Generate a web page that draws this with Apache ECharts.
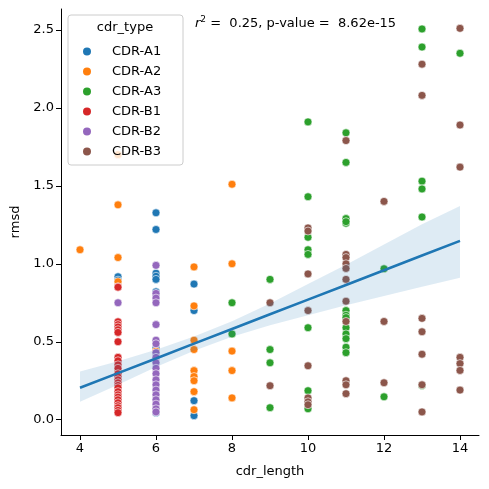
<!DOCTYPE html>
<html><head><meta charset="utf-8">
<script src="https://cdn.jsdelivr.net/npm/echarts@6/dist/echarts.min.js"></script>
<style>html,body{margin:0;padding:0;background:#fff}#c{width:489px;height:489px}</style>
</head><body><div id="c"></div>
<script>
const cdrTypes = ['CDR-A1','CDR-A2','CDR-A3','CDR-B1','CDR-B2','CDR-B3'];
const typeColors = ['#1f77b4','#ff7f0e','#2ca02c','#d62728','#9467bd','#8c564b'];
const xTicks = [4,6,8,10,12,14];
const yTicks = [0,0.5,1.0,1.5,2.0,2.5];

const ptsA1 = [[5,0.917],[5,0.895],[6,1.327],[6,1.22],[6,0.94],[6,0.92],[6,0.90],[6,0.82],[6,0.80],[6,0.46],[6,0.06],[6,0.045],[7,0.87],[7,0.70],[7,0.122],[7,0.026]];
const ptsA2 = [[4,1.09],[5,1.70],[5,1.378],[5,1.04],[5,0.885],[5,0.62],[5,0.314],[5,0.25],[6,0.44],[7,0.98],[7,0.73],[7,0.51],[7,0.45],[7,0.315],[7,0.277],[7,0.25],[7,0.18],[7,0.064],[8,1.51],[8,1.0],[8,0.44],[8,0.315],[8,0.14]];
const ptsA3 = [[8,0.75],[8,0.55],[9,0.90],[9,0.45],[9,0.365],[9,0.077],[10,1.91],[10,1.43],[10,1.17],[10,1.09],[10,1.06],[10,0.59],[10,0.186],[10,0.07],[11,1.84],[11,1.65],[11,1.29],[11,1.26],[11,1.27],[11,0.70],[11,0.67],[11,0.655],[11,0.59],[11,0.55],[11,0.52],[11,0.465],[11,0.43],[12,0.968],[12,0.147],[13,2.506],[13,2.39],[13,1.53],[13,1.48],[13,1.30],[13,0.22],[14,2.35]];
const ptsB1 = [[5,0.853],[5,0.85],[5,0.628],[5,0.61],[5,0.595],[5,0.577],[5,0.56],[5,0.50],[5,0.40],[5,0.378],[5,0.352],[5,0.33],[5,0.295],[5,0.275],[5,0.256],[5,0.237],[5,0.22],[5,0.205],[5,0.18],[5,0.16],[5,0.145],[5,0.128],[5,0.109],[5,0.09],[5,0.077],[5,0.06],[5,0.045]];
const ptsB2 = [[5,0.75],[6,0.99],[6,0.81],[6,0.78],[6,0.75],[6,0.61],[6,0.51],[6,0.487],[6,0.43],[6,0.40],[6,0.365],[6,0.33],[6,0.295],[6,0.256],[6,0.224],[6,0.19],[6,0.16],[6,0.128],[6,0.10],[6,0.07],[6,0.05]];
const ptsB3 = [[9,0.75],[9,0.218],[10,1.23],[10,1.21],[10,0.935],[10,0.70],[10,0.346],[10,0.14],[10,0.115],[10,0.096],[11,1.79],[11,1.06],[11,1.04],[11,1.0],[11,0.97],[11,0.90],[11,0.76],[11,0.63],[11,0.25],[11,0.224],[11,0.167],[12,1.40],[12,0.63],[12,0.237],[13,2.28],[13,2.08],[13,0.65],[13,0.564],[13,0.42],[13,0.224],[13,0.05],[14,2.51],[14,1.89],[14,1.62],[14,0.40],[14,0.36],[14,0.316],[14,0.19]];
const allPts = [ptsA1, ptsA2, ptsA3, ptsB1, ptsB2, ptsB3];

const fitX = [4,5,6,7,8,9,10,11,12,13,14];
const fitY = [0.205,0.299,0.393,0.488,0.582,0.676,0.770,0.864,0.959,1.053,1.147];
const fitLow = [0.115,0.225,0.338,0.443,0.532,0.606,0.670,0.734,0.794,0.853,0.91];
const fitHigh = [0.31,0.375,0.448,0.533,0.632,0.746,0.870,0.994,1.124,1.253,1.37];

const font = 'DejaVu Sans';
const chart = echarts.init(document.getElementById('c'), null, {renderer:'canvas'});

const scatterSeries = cdrTypes.map((name, i) => ({
  name, type:'scatter', data: allPts[i], symbolSize: 8, z: 2,
  itemStyle:{color: typeColors[i], borderColor:'#fff', borderWidth:0.6, opacity:1},
  emphasis:{disabled:true}
}));

chart.setOption({
  animation:false,
  textStyle:{fontFamily:font},
  grid:{left:61, right:10, top:9, bottom:54, containLabel:false},
  xAxis:{type:'value', min:3.5, max:14.5,
    axisLine:{show:true, onZero:false, lineStyle:{color:'#000', width:1}},
    axisTick:{show:true, length:5, lineStyle:{color:'#000'}, customValues:xTicks},
    axisLabel:{color:'#000', fontSize:13, margin:7, fontFamily:font, customValues:xTicks, formatter:v=>String(v)},
    splitLine:{show:false},
    name:'cdr_length', nameLocation:'middle', nameGap:30, nameTextStyle:{color:'#000', fontSize:13, fontFamily:font}},
  yAxis:{type:'value', min:-0.098, max:2.634,
    axisLine:{show:true, onZero:false, lineStyle:{color:'#000', width:1}},
    axisTick:{show:true, length:5, lineStyle:{color:'#000'}, customValues:yTicks},
    axisLabel:{color:'#000', fontSize:13, margin:7, fontFamily:font, customValues:yTicks, formatter:v=>v.toFixed(1)},
    splitLine:{show:false},
    name:'rmsd', nameLocation:'middle', nameGap:39, nameRotate:90, nameTextStyle:{color:'#000', fontSize:13, fontFamily:font}},
  legend:{orient:'vertical', left:76, top:40, itemWidth:10, itemHeight:10, itemGap:7, icon:'circle',
    data:cdrTypes, textStyle:{color:'#000', fontSize:13, fontFamily:font, padding:[0,0,0,15]}, selectedMode:false, z:10},
  graphic:[
    {type:'rect', shape:{x:68, y:15, width:115, height:150, r:3}, z:8, zlevel:0,
      style:{fill:'rgba(255,255,255,0.8)', stroke:'#cccccc', lineWidth:1}},
    {type:'text', x:125, y:28, z:9, style:{text:'cdr_type', fill:'#000', font:'13px "DejaVu Sans"', align:'center', verticalAlign:'middle'}},
    {type:'text', x:195, y:24, z:9, style:{
      text:'{i|r}{s|2}{n| =  0.25, p-value =  8.62e-15}',
      verticalAlign:'middle',
      rich:{
        i:{fontStyle:'italic', fontSize:13, fontFamily:font, fill:'#000', color:'#000'},
        s:{fontSize:9, fontFamily:font, verticalAlign:'top', padding:[0,0,9,0], color:'#000'},
        n:{fontSize:13, fontFamily:font, color:'#000'}
      }}}
  ],
  series: scatterSeries.concat([
    {type:'custom', name:'ci', z:3, silent:true,
      data:[0],
      renderItem:(params, api) => {
        const top = fitX.map((x,k)=>api.coord([x, fitHigh[k]]));
        const bot = fitX.map((x,k)=>api.coord([x, fitLow[k]])).reverse();
        return {type:'polygon', shape:{points: top.concat(bot)}, style:{fill:'rgba(31,119,180,0.15)'}};
      }},
    {type:'line', name:'fit', z:4, data: fitX.map((x,k)=>[x, fitY[k]]), showSymbol:false, symbol:'none',
      lineStyle:{color:'#1f77b4', width:2.6}, silent:true}
  ])
});
</script></body></html>
